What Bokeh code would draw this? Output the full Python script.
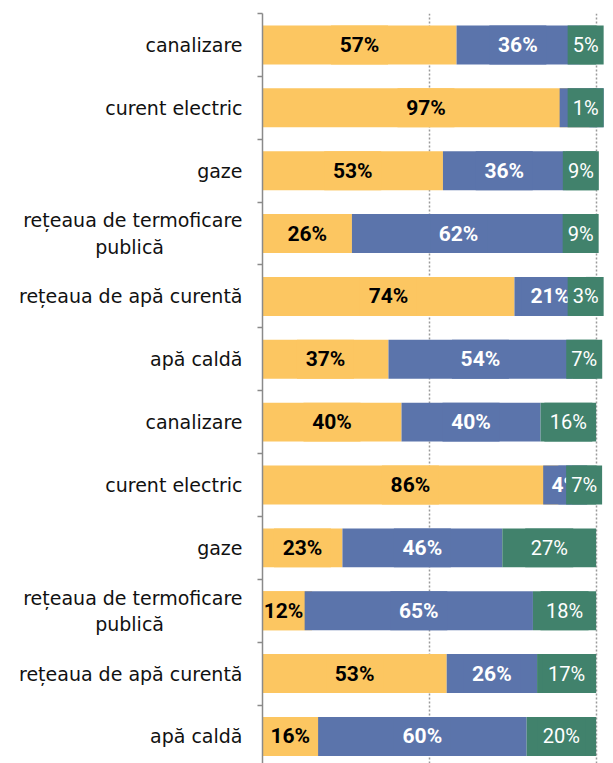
from bokeh.plotting import figure
from bokeh.models import Range1d, FixedTicker, ColumnDataSource
from bokeh.core.properties import value
from bokeh.embed import file_html
from bokeh.resources import INLINE

NB = "\u00a0" * 13
categories = [
    "canalizare", "curent electric", "gaze", "rețeaua de termoficare\npublică" + NB,
    "rețeaua de apă curentă", "apă caldă",
    "canalizare", "curent electric", "gaze", "rețeaua de termoficare\npublică" + NB,
    "rețeaua de apă curentă", "apă caldă",
]
series_a = [57, 97, 53, 26, 74, 37, 40, 86, 23, 12, 53, 16]
series_b = [36, 1, 36, 62, 21, 54, 40, 4, 46, 65, 26, 60]
series_c = [5, 1, 9, 9, 3, 7, 16, 7, 27, 18, 17, 20]

colors = ["#FCC661", "#5B74AB", "#41826C"]
text_colors = ["#000000", "#FFFFFF", "#FFFFFF"]
weights = ["bold", "bold", "normal"]
fsizes = ["21px", "21px", "20px"]
box_char = [13, 13, 12]
box_pad = [18, 18, 12]

n = len(categories)
ys = list(range(n))
totals = [a + b + c for a, b, c in zip(series_a, series_b, series_c)]

X_END = 105.2
PX_PER_UNIT = 3.335
BOX_RIGHT_MAX = 341.0  # px from x=0

p = figure(width=613, height=763, output_backend="svg", toolbar_location=None,
           x_range=Range1d(0, X_END), y_range=Range1d(11.43, -0.5),
           x_axis_location=None, min_border_left=262, min_border_right=0,
           min_border_top=13, min_border_bottom=0)
p.outline_line_color = None
p.background_fill_color = "white"

p.ygrid.visible = False
p.xgrid.ticker = FixedTicker(ticks=[50, 100])
p.xgrid.grid_line_color = "#9a9a9a"
p.xgrid.grid_line_dash = "2 2"
p.xgrid.grid_line_width = 1.5

yax = p.yaxis[0]
yax.ticker = FixedTicker(ticks=ys, minor_ticks=[i - 0.5 for i in range(n + 1)])
yax.major_label_overrides = {i: c for i, c in enumerate(categories)}
yax.major_tick_in = 0
yax.major_tick_out = 0
yax.minor_tick_in = 0
yax.minor_tick_out = 5
yax.minor_tick_line_color = "#8a8a8a"
yax.minor_tick_line_width = 1.5
yax.axis_line_color = "#8a8a8a"
yax.axis_line_width = 1.5
yax.major_label_text_font = "DejaVu Sans"
yax.major_label_text_font_size = "19px"
yax.major_label_text_color = "#111111"
yax.major_label_standoff = 15

left = [0.0] * n
for k, (vals, col) in enumerate(zip([series_a, series_b, series_c], colors)):
    share = [v / t * 100 for v, t in zip(vals, totals)]
    right = [l + s for l, s in zip(left, share)]
    p.hbar(y=ys, left=left, right=right, height=0.62, fill_color=col, line_color=None)
    labs = [f"{v}%" for v in vals]
    widths = [box_char[k] * len(t) + box_pad[k] for t in labs]
    centres = []
    for l, r, w in zip(left, right, widths):
        c = (l + r) / 2
        cmax = (BOX_RIGHT_MAX - w / 2) / PX_PER_UNIT
        centres.append(min(c, cmax))
    src = ColumnDataSource(dict(x=centres, y=ys, w=widths, t=labs))
    p.rect(x="x", y="y", width="w", width_units="screen", height=0.62,
           source=src, fill_color=col, line_color=None)
    p.text(x="x", y="y", text="t", source=src, text_align="center",
           text_baseline="middle", text_color=text_colors[k],
           text_font=value("Roboto"), text_font_style=weights[k],
           text_font_size=fsizes[k])
    left = right

open("out.html", "w").write(file_html(p, INLINE))
